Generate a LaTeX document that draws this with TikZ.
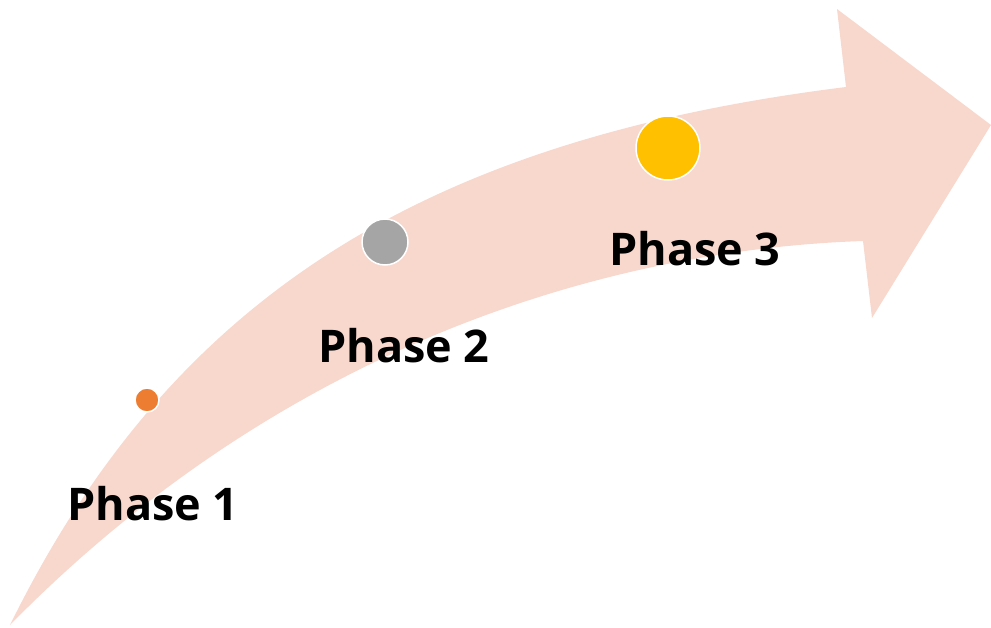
\documentclass[tikz,border=0pt]{standalone}
\usepackage{fontspec}
\setsansfont{Open Sans}
\usepackage{tikz}
\usetikzlibrary{positioning, calc}
\definecolor{arrowpink}{HTML}{F8D7CD}
\definecolor{dotorange}{HTML}{ED7D31}
\definecolor{dotgray}{HTML}{A5A5A5}
\definecolor{dotyellow}{HTML}{FFC000}
\tikzset{
         mydot/.style={circle, draw=white, line width=1.5pt, inner sep=0pt},
         mylabel/.style={anchor=base, font=\sffamily\bfseries\fontsize{45}{45}\selectfont}
      }

\begin{document}
\begin{tikzpicture}[x=1pt,y=-1pt]
               \useasboundingbox (0,0) rectangle (991,627);
               % curved arrow
               \fill[arrowpink] (10,625) .. controls (170,300) and (420,140) .. (846,87)
                   -- (837,9) -- (991,125) -- (872,318) -- (863,241)
                   .. controls (600,250) and (280,350) .. (10,625) -- cycle;
               % phase dots
               \node[mydot, fill=dotorange, minimum size=24pt] (dot1) at (147,400) {};
               \node[mydot, fill=dotgray, minimum size=46pt] (dot2) at (385,242) {};
               \node[mydot, fill=dotyellow, minimum size=64pt] (dot3) at (668,148) {};
               % phase labels
               \node[mylabel] (phase1) at (153,520) {Phase 1};
               \node[mylabel] (phase2) at (404,362) {Phase 2};
               \node[mylabel] (phase3) at (695,265) {Phase 3};
\end{tikzpicture}
\end{document}
